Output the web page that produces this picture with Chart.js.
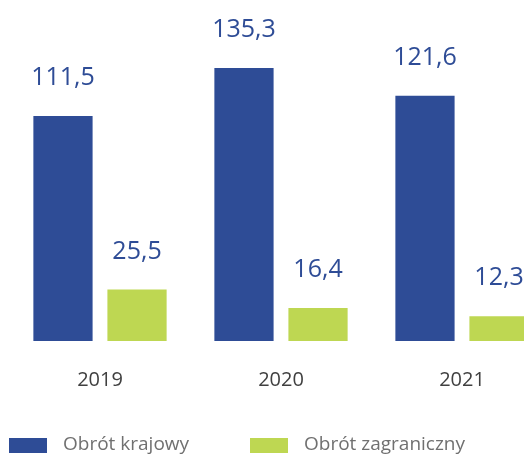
<!DOCTYPE html>
<html>
<head>
<meta charset="utf-8">
<script src="https://cdn.jsdelivr.net/npm/chart.js@4/dist/chart.umd.min.js"></script>
<style>
  html, body { margin: 0; padding: 0; background: #fff; overflow: hidden; }
  #wrap { position: absolute; left: 0; top: 0; width: 560px; height: 433px; }
  #legend { position: absolute; left: 0; top: 430px; width: 524px; height: 27px;
            font-family: "Open Sans", sans-serif; font-size: 19px; color: #707070; }
  .item { position: absolute; top: 0; height: 27px; }
  .box { position: absolute; left: 0; top: 8px; width: 38px; height: 15px; }
  .txt { position: absolute; left: 54px; top: 0; white-space: nowrap; line-height: 27px; }
</style>
</head>
<body>
<div id="wrap"><canvas id="chart" width="560" height="433"></canvas></div>
<div id="legend"></div>
<script>
var years = ["2019", "2020", "2021"];
var seriesNames = ["Obrót krajowy", "Obrót zagraniczny"];
var domestic = [111.5, 135.3, 121.6];
var foreign = [25.5, 16.4, 12.3];

var blue = "#2e4c96";
var green = "#bed752";

// values above bars, comma as decimal separator
var barLabels = {
    id: "barLabels",
    afterDatasetsDraw: function (chart) {
        const ctx = chart.ctx;
        ctx.save();
        ctx.font = "25px 'Open Sans', sans-serif";
        ctx.fillStyle = blue;
        ctx.textAlign = "center";
        ctx.textBaseline = "alphabetic";
        chart.data.datasets.forEach(function (ds, i) {
            chart.getDatasetMeta(i).data.forEach(function (bar, j) {
                const txt = ds.data[j].toFixed(1).replace(".", ",");
                ctx.fillText(txt, bar.x, bar.y - 31);
            });
        });
        ctx.restore();
    }
};

new Chart(document.getElementById("chart"), {
    type: "bar",
    data: {
        labels: years,
        datasets: [
            { label: seriesNames[0], data: domestic, backgroundColor: blue },
            { label: seriesNames[1], data: foreign, backgroundColor: green }
        ]
    },
    options: {
        responsive: false,
        animation: false,
        devicePixelRatio: 1,
        layout: { padding: { left: 9.5, right: 7.5, top: 0, bottom: 14 } },
        datasets: { bar: { categoryPercentage: 0.818, barPercentage: 0.8 } },
        plugins: { legend: { display: false }, tooltip: { enabled: false } },
        scales: {
            x: {
                grid: { display: false, drawTicks: false },
                border: { display: false },
                ticks: { padding: 27, color: "#404040", font: { family: "'Open Sans', sans-serif", size: 20 } }
            },
            y: { display: false, min: 0, max: 169 }
        }
    },
    plugins: [barLabels]
});

// legend under the chart
var legend = document.getElementById("legend");
var lefts = [9, 250];
[blue, green].forEach(function (c, i) {
    var item = document.createElement("div");
    item.className = "item";
    item.style.left = lefts[i] + "px";
    item.innerHTML = '<div class="box" style="background:' + c + '"></div><div class="txt">' + seriesNames[i] + '</div>';
    legend.appendChild(item);
});
</script>
</body>
</html>
